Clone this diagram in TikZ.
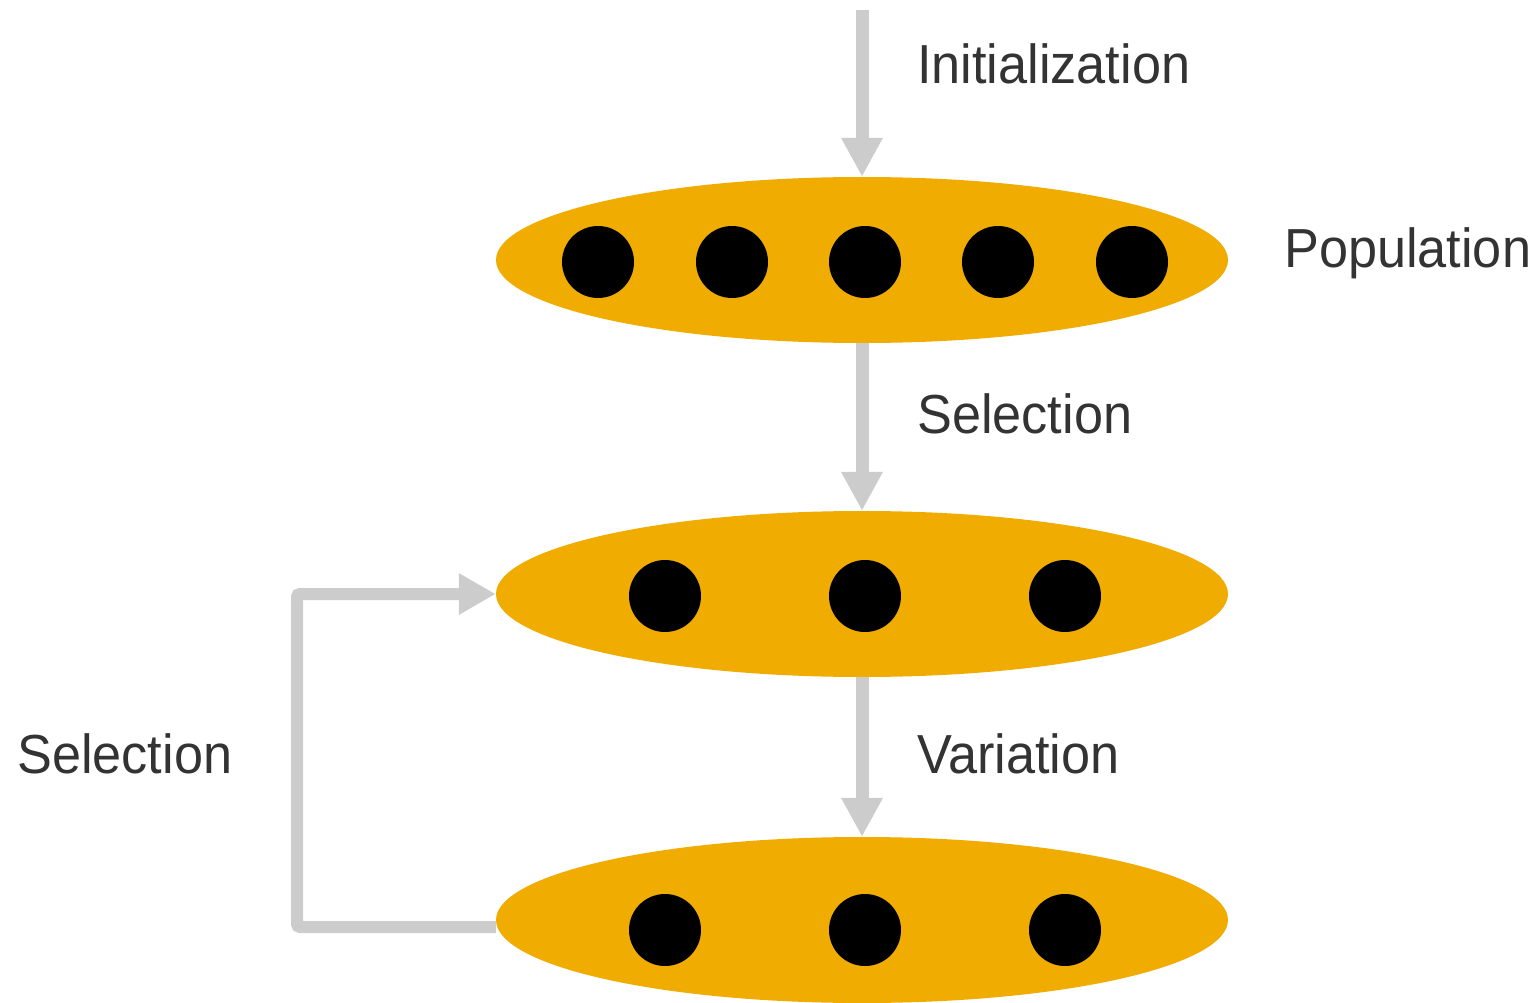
\documentclass[tikz,border=0pt]{standalone}
\usepackage{fontspec}
\setmainfont{Liberation Sans}[FakeStretch=0.95]
\usetikzlibrary{shapes.geometric,arrows.meta}
\definecolor{pop}{HTML}{F0AC00}
\definecolor{arr}{HTML}{CCCCCC}
\definecolor{txt}{HTML}{333333}
\tikzset{
  popell/.style={ellipse,fill=pop,draw=none,minimum width=732pt,minimum height=166pt,inner sep=0pt},
  indiv/.style={circle,fill=black,draw=none,minimum size=72pt,inner sep=0pt},
  flow/.style={draw=arr,line width=13pt,-{Triangle[width=39pt,length=39pt]}},
  loopflow/.style={draw=arr,line width=12pt,rounded corners=3pt,-{Triangle[width=39pt,length=37pt]}},
  lbl/.style={text=txt,font=\fontsize{55}{66}\selectfont,anchor=base west,inner sep=0pt}
}
\begin{document}
\begin{tikzpicture}[x=1pt,y=-1pt]
\useasboundingbox (0,0) rectangle (1537,1003);
\node[popell] (e1) at (862,260) {};
\node[popell] (e2) at (862,594) {};
\node[popell] (e3) at (862,920) {};
\foreach \x [count=\i] in {598,732,865,998,1132} \node[indiv] (a\i) at (\x,262) {};
\foreach \x [count=\i] in {665,865,1065} \node[indiv] (b\i) at (\x,596) {};
\foreach \x [count=\i] in {665,865,1065} \node[indiv] (c\i) at (\x,930) {};
\coordinate (start) at (862,10);
\coordinate (corner) at (297,927);
\draw[flow] (start) -- (e1.north);
\draw[flow] (e1.south) -- (e2.north);
\draw[flow] (e2.south) -- (e3.north);
\draw[loopflow] ([yshift=-7pt]e3.west) -- (corner) |- (e2.west);
\node[lbl] (tinit) at (917,84) {Initialization};
\node[lbl] (tpop) at (1284,267) {Population};
\node[lbl] (tsel1) at (917,433) {Selection};
\node[lbl] (tvar) at (917,773) {Variation};
\node[lbl] (tsel2) at (17,773) {Selection};
\end{tikzpicture}
\end{document}
